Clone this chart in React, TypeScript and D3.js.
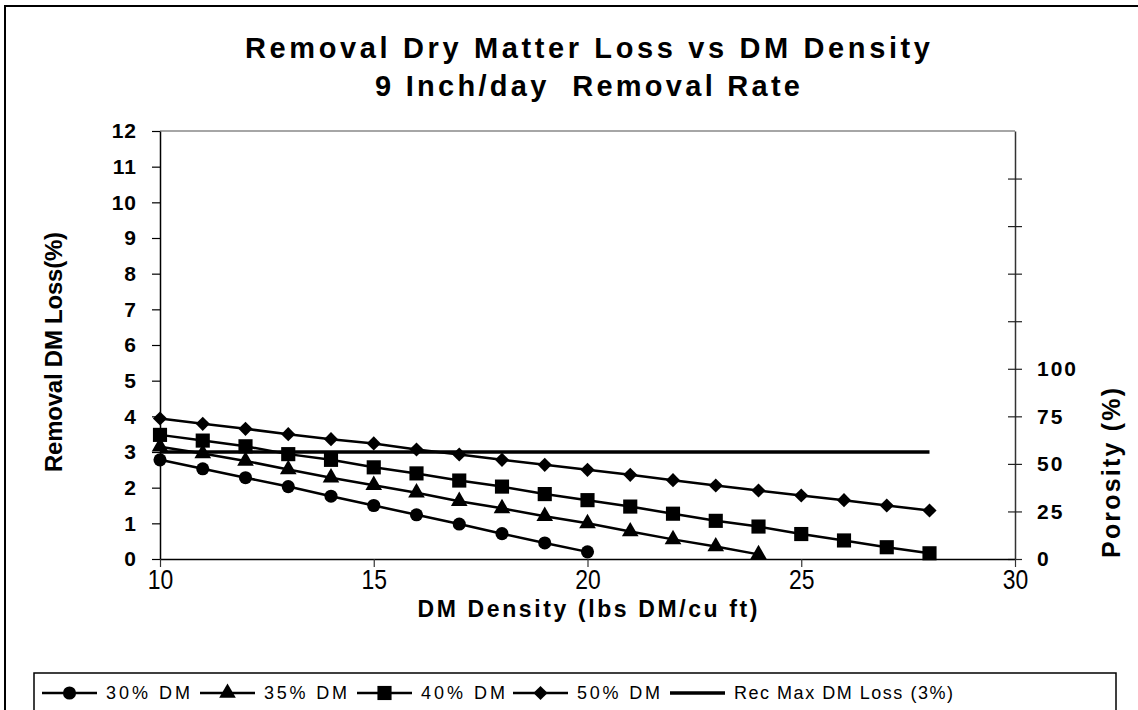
import React, { useEffect, useRef } from 'react';
import * as d3 from 'd3';

// Datos
const density30 = [10, 11, 12, 13, 14, 15, 16, 17, 18, 19, 20];
const loss30 = [2.78, 2.53, 2.28, 2.03, 1.76, 1.5, 1.24, 0.98, 0.71, 0.45, 0.2];

const density35 = [10, 11, 12, 13, 14, 15, 16, 17, 18, 19, 20, 21, 22, 23, 24];
const loss35 = [3.15, 2.96, 2.75, 2.51, 2.28, 2.07, 1.86, 1.62, 1.42, 1.2, 1.0, 0.77, 0.55, 0.35, 0.13];

const density40 = [10, 11, 12, 13, 14, 15, 16, 17, 18, 19, 20, 21, 22, 23, 24, 25, 26, 27, 28];
const loss40 = [3.48, 3.32, 3.16, 2.94, 2.78, 2.57, 2.4, 2.2, 2.03, 1.82, 1.65, 1.47, 1.27, 1.07, 0.91, 0.7, 0.52, 0.33, 0.16];

const density50 = [10, 11, 12, 13, 14, 15, 16, 17, 18, 19, 20, 21, 22, 23, 24, 25, 26, 27, 28];
const loss50 = [3.94, 3.79, 3.65, 3.5, 3.36, 3.24, 3.07, 2.93, 2.78, 2.64, 2.5, 2.36, 2.21, 2.06, 1.92, 1.78, 1.65, 1.5, 1.36];

const recDensity = [10, 28];
const recLoss = [3, 3];

const xTicks = [10, 15, 20, 25, 30];
const yTicks = [0, 1, 2, 3, 4, 5, 6, 7, 8, 9, 10, 11, 12];
const porosityTicks = [0, 25, 50, 75, 100, 125, 150, 175, 200];
const porosityLabels = [0, 25, 50, 75, 100];

const seriesNames = ['30% DM', '35% DM', '40% DM', '50% DM', 'Rec Max DM Loss (3%)'];
const seriesShapes = ['circle', 'triangle', 'square', 'diamond', 'none'];

const titleLines = ['Removal Dry Matter Loss vs DM Density', '9 Inch/day  Removal Rate'];

const App = () => {
  const chartRef = useRef<HTMLDivElement>(null);

  useEffect(() => {
    document.body.style.margin = '0';
    const width = 1138;
    const height = 710;
    const plot = { left: 160, right: 1015, top: 131, bottom: 559 };
    const font = 'Arial, "Liberation Sans", sans-serif';

    const svg = d3
      .select(chartRef.current)
      .append('svg')
      .attr('width', width)
      .attr('height', height)
      .style('display', 'block')
      .style('font-family', font);

    svg.append('rect').attr('width', width).attr('height', height).attr('fill', 'white');

    // Borde exterior
    svg
      .append('rect')
      .attr('x', 5)
      .attr('y', 6)
      .attr('width', 1200)
      .attr('height', 800)
      .attr('fill', 'none')
      .attr('stroke', '#000')
      .attr('stroke-width', 2);

    const x = d3.scaleLinear().domain([10, 30]).range([plot.left, plot.right]);
    const y = d3.scaleLinear().domain([0, 12]).range([plot.bottom, plot.top]);
    const yPor = d3.scaleLinear().domain([0, 225]).range([plot.bottom, plot.top]);

    // Título
    const titleWidths = [685, 425];
    titleLines.forEach((t, i) => {
      svg
        .append('text')
        .attr('x', (plot.left + plot.right) / 2)
        .attr('y', 58 + i * 38)
        .attr('text-anchor', 'middle')
        .attr('textLength', titleWidths[i])
        .attr('lengthAdjust', 'spacing')
        .style('white-space', 'pre')
        .style('font-size', '29px')
        .style('font-weight', 'bold')
        .text(t);
    });

    // Borde superior del área
    svg
      .append('line')
      .attr('x1', plot.left)
      .attr('x2', plot.right)
      .attr('y1', plot.top)
      .attr('y2', plot.top)
      .attr('stroke', '#888')
      .attr('stroke-width', 1.5);

    // Eje y izquierdo
    const yAxis = svg
      .append('g')
      .attr('transform', `translate(${plot.left},0)`)
      .call(d3.axisLeft(y).tickValues(yTicks).tickSize(8).tickPadding(15).tickSizeOuter(0));
    yAxis.select('.domain').attr('stroke', '#000').attr('stroke-width', 1.5);
    yAxis.selectAll('.tick line').attr('stroke', '#000').attr('stroke-width', 1.2);
    yAxis
      .selectAll('.tick text')
      .style('font-size', '21px')
      .style('font-weight', 'bold')
      .style('letter-spacing', '1px')
      .style('font-family', font)
      .attr('fill', '#000');

    // Eje y derecho (porosidad)
    const yRight = svg
      .append('g')
      .attr('transform', `translate(${plot.right},0)`)
      .call(
        d3
          .axisRight(yPor)
          .tickValues(porosityTicks)
          .tickSize(7)
          .tickPadding(15)
          .tickSizeOuter(0)
          .tickFormat((d) => (porosityLabels.includes(d as number) ? String(d) : ''))
      );
    yRight.select('.domain').attr('stroke', '#333').attr('stroke-width', 1.5);
    yRight.selectAll('.tick line').attr('x1', -7).attr('stroke', '#222').attr('stroke-width', 1.2);
    yRight
      .selectAll('.tick text')
      .style('font-size', '21px')
      .style('font-weight', 'bold')
      .style('letter-spacing', '2px')
      .style('font-family', font)
      .attr('fill', '#000');

    // Eje x
    const xAxis = svg
      .append('g')
      .attr('transform', `translate(0,${plot.bottom})`)
      .call(d3.axisBottom(x).tickValues(xTicks).tickSize(8).tickPadding(3).tickSizeOuter(0));
    xAxis.select('.domain').attr('stroke', '#000').attr('stroke-width', 1.5);
    xAxis.selectAll('.tick line').attr('stroke', '#333').attr('stroke-width', 1.2);
    xAxis
      .selectAll('.tick text')
      .attr('transform', 'scale(0.85,1)')
      .style('font-size', '27px')
      .style('font-family', font)
      .attr('fill', '#000');

    // Etiquetas de ejes
    svg
      .append('text')
      .attr('x', (plot.left + plot.right) / 2)
      .attr('y', 617)
      .attr('text-anchor', 'middle')
      .attr('textLength', 340)
      .attr('lengthAdjust', 'spacing')
      .style('font-size', '23px')
      .style('font-weight', 'bold')
      .text('DM Density (lbs DM/cu ft)');

    svg
      .append('text')
      .attr('transform', 'rotate(-90)')
      .attr('x', -352)
      .attr('y', 62)
      .attr('text-anchor', 'middle')
      .attr('textLength', 240)
      .attr('lengthAdjust', 'spacing')
      .style('font-size', '24px')
      .style('font-weight', 'bold')
      .text('Removal DM Loss(%)');

    svg
      .append('text')
      .attr('transform', 'rotate(-90)')
      .attr('x', -473)
      .attr('y', 1120)
      .attr('text-anchor', 'middle')
      .attr('textLength', 170)
      .attr('lengthAdjust', 'spacing')
      .style('font-size', '25px')
      .style('font-weight', 'bold')
      .text('Porosity (%)');

    const series = [
      { xs: density30, ys: loss30 },
      { xs: density35, ys: loss35 },
      { xs: density40, ys: loss40 },
      { xs: density50, ys: loss50 },
      { xs: recDensity, ys: recLoss },
    ];

    const line = d3
      .line<[number, number]>()
      .x((d) => x(d[0]))
      .y((d) => y(d[1]));

    const symbolFor = (shape: string) => {
      if (shape === 'circle') return d3.symbol().type(d3.symbolCircle).size(135)();
      if (shape === 'triangle') return d3.symbol().type(d3.symbolTriangle).size(120)();
      if (shape === 'square') return d3.symbol().type(d3.symbolSquare).size(200)();
      if (shape === 'diamond') return d3.symbol().type(d3.symbolSquare).size(100)();
      return null;
    };
    const rot = (shape: string) => (shape === 'diamond' ? ' rotate(45)' : '');

    series.forEach((s, i) => {
      const pts: [number, number][] = s.xs.map((v, j) => [v, s.ys[j]]);
      svg
        .append('path')
        .datum(pts)
        .attr('d', line)
        .attr('fill', 'none')
        .attr('stroke', '#000')
        .attr('stroke-width', seriesShapes[i] === 'none' ? 3.5 : 2.5);
      const sym = symbolFor(seriesShapes[i]);
      if (sym) {
        svg
          .append('g')
          .selectAll('path')
          .data(pts)
          .enter()
          .append('path')
          .attr('d', sym)
          .attr('transform', (d) => `translate(${x(d[0])},${y(d[1])})${rot(seriesShapes[i])}`)
          .attr('fill', '#000');
      }
    });

    // Leyenda
    const legend = svg.append('g');
    legend
      .append('rect')
      .attr('x', 34)
      .attr('y', 673)
      .attr('width', 1082)
      .attr('height', 60)
      .attr('fill', 'white')
      .attr('stroke', '#000')
      .attr('stroke-width', 1.5);

    const legendX = [42, 200, 357, 513, 670];
    const legendTextW = [84, 83, 84, 83, 219];
    seriesNames.forEach((name, i) => {
      const g = legend.append('g').attr('transform', `translate(${legendX[i]},693)`);
      g.append('line')
        .attr('x1', 0)
        .attr('x2', 55)
        .attr('stroke', '#000')
        .attr('stroke-width', seriesShapes[i] === 'none' ? 3.5 : 2.5);
      const sym = symbolFor(seriesShapes[i]);
      if (sym)
        g.append('path')
          .attr('d', sym)
          .attr('transform', `translate(27.5,0)${rot(seriesShapes[i])}`)
          .attr('fill', '#000');
      g.append('text')
        .attr('x', 64)
        .attr('dy', '0.36em')
        .attr('textLength', legendTextW[i])
        .attr('lengthAdjust', 'spacing')
        .style('font-size', '18px')
        .text(name);
    });
  }, []);

  return <div ref={chartRef}></div>;
};

export default App;
